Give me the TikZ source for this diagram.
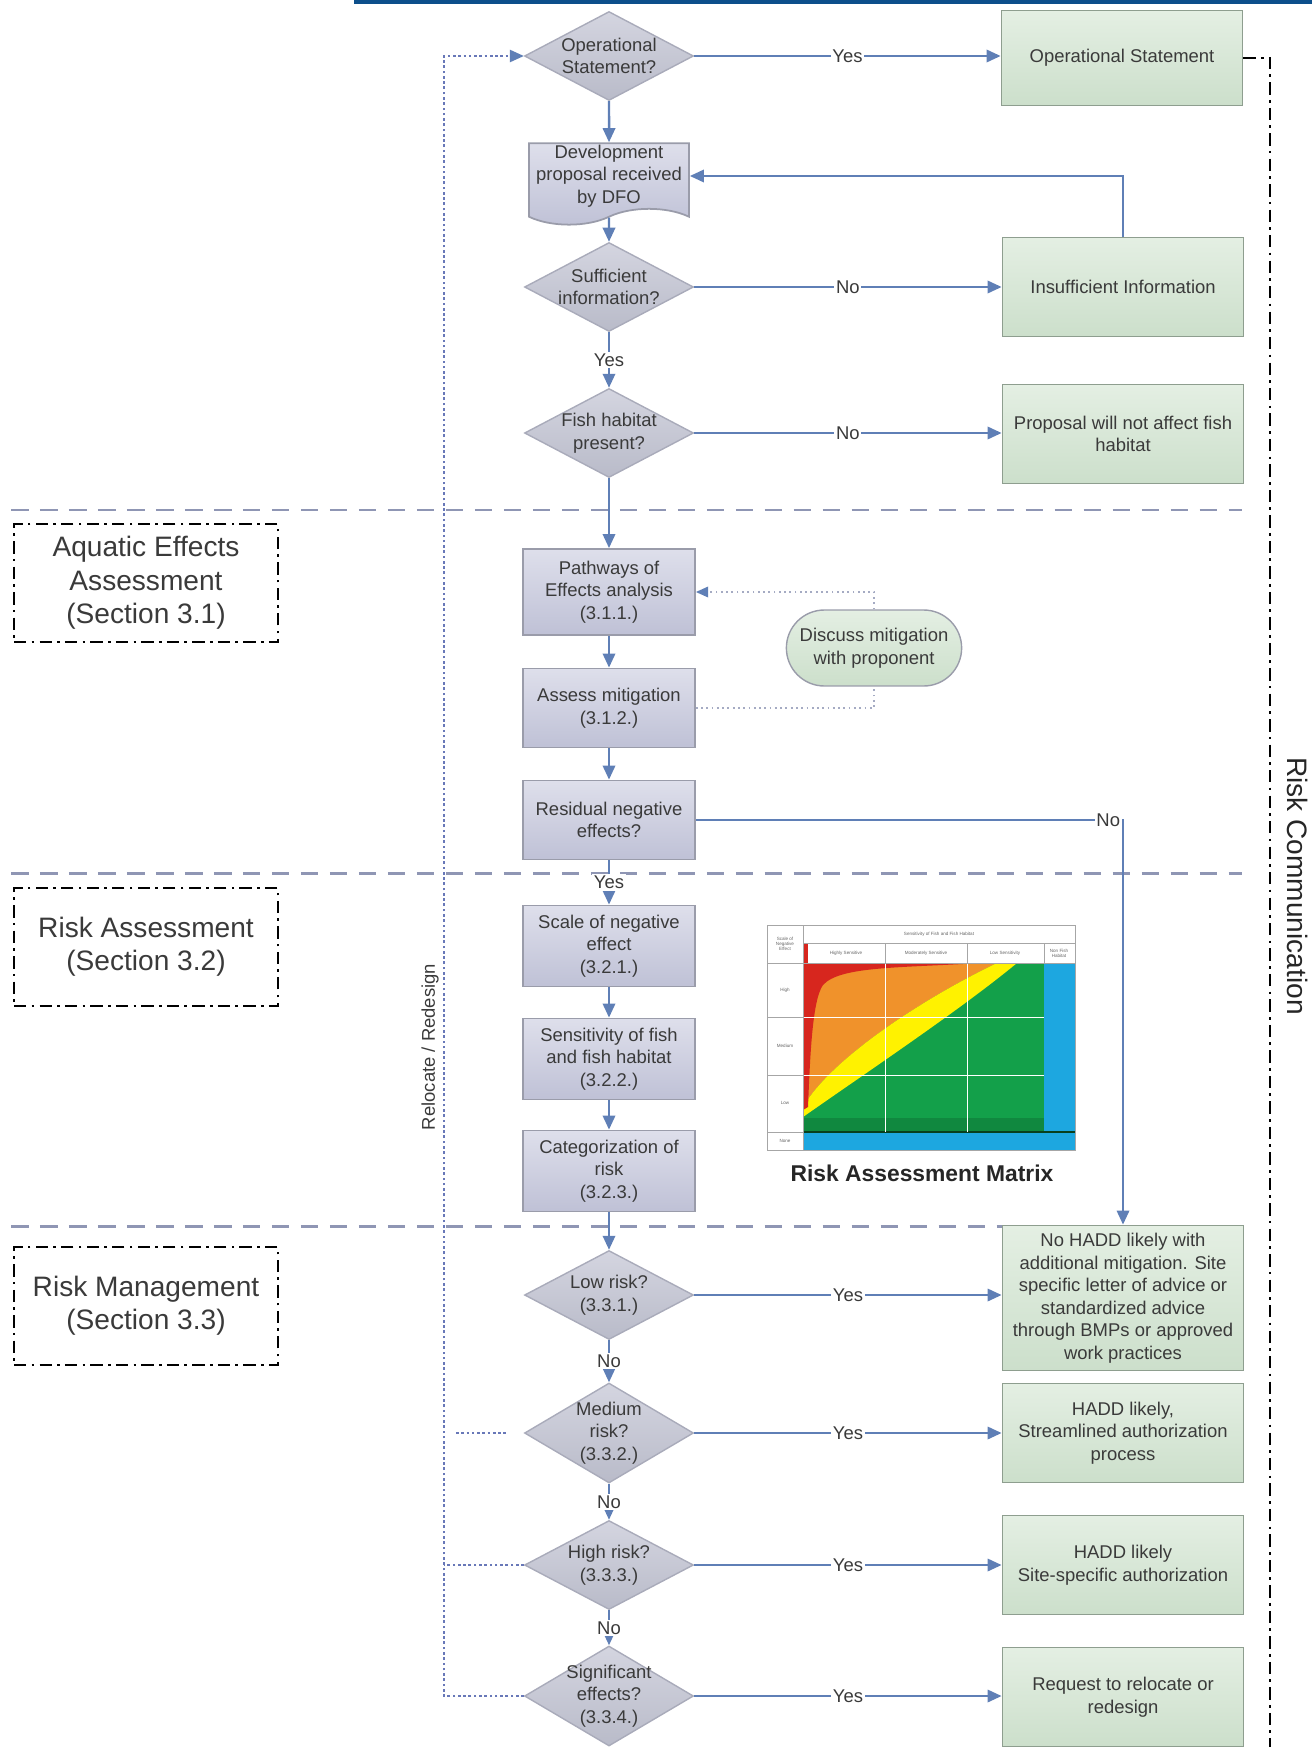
\documentclass[tikz,border=0pt]{standalone}
\usepackage{fontspec}
\setmainfont{Liberation Sans}
\usetikzlibrary{arrows.meta,shapes.geometric,shapes.symbols,shapes.misc}

\definecolor{flowblue}{HTML}{5F7FB6}
\definecolor{procedge}{HTML}{9A9CAA}
\definecolor{proctop}{HTML}{DEDFEB}
\definecolor{procbot}{HTML}{BFC1D6}
\definecolor{dectop}{HTML}{D4D5E0}
\definecolor{decbot}{HTML}{B9BBC9}
\definecolor{decedge}{HTML}{A9ABBA}
\definecolor{greentop}{HTML}{E4EFE3}
\definecolor{greenbot}{HTML}{CCDFCB}
\definecolor{greenedge}{HTML}{8E9E8F}
\definecolor{sepgray}{HTML}{8F96B4}
\definecolor{relblue}{HTML}{6878B8}
\definecolor{txtgray}{HTML}{3A3A3A}
\definecolor{topblue}{HTML}{0D4F8B}
\definecolor{mred}{HTML}{D7261E}
\definecolor{morange}{HTML}{F0922B}
\definecolor{myellow}{HTML}{FFF200}
\definecolor{mgreen}{HTML}{13A04A}
\definecolor{mblue}{HTML}{1DA7E0}

\tikzset{
  proc/.style={rectangle, draw=procedge, line width=1pt, top color=proctop,
    bottom color=procbot, minimum width=3.44cm, align=center, inner sep=2pt,
    text=txtgray},
  docbox/.style={tape, tape bend top=none, tape bend bottom=in and out,
    tape bend height=9pt, draw=procedge, line width=1pt, top color=proctop,
    bottom color=procbot, minimum width=3.2cm, minimum height=1.42cm,
    align=center, inner sep=1pt, text=txtgray},
  decision/.style={diamond, draw=decedge, line width=0.8pt, top color=dectop,
    bottom color=decbot, minimum width=3.38cm, minimum height=1.78cm,
    inner sep=0pt},
  dtext/.style={align=center, text=txtgray, inner sep=0pt},
  outcome/.style={rectangle, draw=greenedge, line width=1pt, top color=greentop,
    bottom color=greenbot, minimum width=4.82cm, minimum height=1.98cm,
    align=center, text=txtgray},
  discbox/.style={rounded rectangle, draw=procedge, line width=0.8pt,
    top color=greentop, bottom color=greenbot, minimum width=3.74cm,
    minimum height=1.52cm, align=center, text=txtgray},
  secbox/.style={rectangle, draw=black, line width=1.3pt,
    dash pattern=on 7pt off 3pt on 1.5pt off 3pt, minimum width=5.28cm,
    minimum height=2.35cm, align=center, text=txtgray,
    font=\fontsize{16}{19}\selectfont},
  flow/.style={draw=flowblue, line width=1.4pt,
    -{Triangle[length=8pt, width=7pt]}},
  yn/.style={fill=white, inner sep=1pt, text=txtgray},
  dotflow/.style={draw=sepgray!80, line width=1pt, dash pattern=on 1pt off 2pt},
  reloc/.style={draw=relblue, line width=1pt, dash pattern=on 1.5pt off 1.5pt},
  sepline/.style={draw=sepgray, line width=1.7pt, dash pattern=on 10pt off 6.5pt},
  commline/.style={draw=black, line width=1.3pt,
    dash pattern=on 7pt off 3pt on 1.5pt off 3pt},
  mtxt/.style={inner sep=0pt, text=black!60, align=center,
    font=\fontsize{2.6}{3}\selectfont},
}

\begin{document}
\begin{tikzpicture}[x=0.02cm, y=-0.02cm, font=\fontsize{10.5}{12.8}\selectfont]
  \useasboundingbox (0,0) rectangle (1312,1747);

  % header rule
  \draw[topblue, line width=1.8pt] (354,2) -- (1312,2);

  % section separators
  \foreach \y in {510,873,1226} {
    \draw[sepline] (11,\y) -- (1242,\y);
  }

  % section labels
  \node[secbox] (aqua) at (146,583) {Aquatic Effects\\Assessment\\(Section 3.1)};
  \node[secbox] (rass) at (146,947) {Risk Assessment\\(Section 3.2)};
  \node[secbox] (rman) at (146,1306) {Risk Management\\(Section 3.3)};

  % main column
  \node[decision] (opq) at (609,56) {};
  \node[dtext] (opqt) at (opq) {Operational\\Statement?};
  \node[docbox] (devprop) at (609,176) {Development\\proposal received\\by DFO};
  \node[decision] (suf) at (609,287) {};
  \node[dtext] (suft) at (suf) {Sufficient\\information?};
  \node[decision] (fish) at (609,433) {};
  \node[dtext] (fisht) at (fish) {Fish habitat\\present?};
  \node[proc, minimum height=1.72cm] (path) at (609,592) {Pathways of\\Effects analysis\\(3.1.1.)};
  \node[proc, minimum height=1.58cm] (assess) at (609,708) {Assess mitigation\\(3.1.2.)};
  \node[proc, minimum height=1.58cm] (resid) at (609,820) {Residual negative\\effects?};
  \node[proc, minimum height=1.62cm] (scale) at (609,946) {Scale of negative\\effect\\(3.2.1.)};
  \node[proc, minimum height=1.62cm] (sens) at (609,1059) {Sensitivity of fish\\and fish habitat\\(3.2.2.)};
  \node[proc, minimum height=1.62cm] (categ) at (609,1171) {Categorization of\\risk\\(3.2.3.)};
  \node[decision] (low) at (609,1295) {};
  \node[dtext] (lowt) at (low) {Low risk?\\(3.3.1.)};
  \node[decision, minimum height=2cm] (med) at (609,1433) {};
  \node[dtext] (medt) at (med) {Medium\\risk?\\(3.3.2.)};
  \node[decision] (high) at (609,1565) {};
  \node[dtext] (hight) at (high) {High risk?\\(3.3.3.)};
  \node[decision, minimum height=2cm] (sig) at (609,1696) {};
  \node[dtext] (sigt) at (sig) {Significant\\effects?\\(3.3.4.)};

  % outcomes
  \node[outcome, minimum height=1.9cm] (opbox) at (1122,58) {Operational Statement};
  \node[outcome] (insuf) at (1123,287) {Insufficient Information};
  \node[outcome] (prop) at (1123,434) {Proposal will not affect fish\\habitat};
  \node[outcome, minimum height=2.9cm] (nohadd) at (1123,1298) {No HADD likely with\\additional mitigation. Site\\specific letter of advice or\\standardized advice\\through BMPs or approved\\work practices};
  \node[outcome] (hsa) at (1123,1433) {HADD likely,\\Streamlined authorization\\process};
  \node[outcome] (hss) at (1123,1565) {HADD likely\\Site-specific authorization};
  \node[outcome] (req) at (1123,1697) {Request to relocate or\\redesign};

  \node[discbox] (discuss) at (874,648) {Discuss mitigation\\with proponent};

  % risk matrix
  \fill[white] (767,925) rectangle (1075,1150);
  \fill[mgreen] (803,963) rectangle (1044,1132);
  \fill[mgreen!85!black] (803,1118) rectangle (1044,1132);
  \fill[morange] (803,963) -- (997,963) .. controls (920,1000) and (830,1060) .. (803,1107) -- cycle;
  \fill[myellow] (803,1117) .. controls (870,1070) and (960,1010) .. (1017,963) -- (997,963)
    .. controls (920,1000) and (830,1060) .. (803,1107) -- cycle;
  \fill[mred] (803,963) -- (980,963) .. controls (900,968) and (840,966) .. (823,985)
    .. controls (812,1000) and (810,1060) .. (808,1107) -- (803,1110) -- cycle;
  \fill[mblue] (1044,963) rectangle (1075,1132);
  \fill[mblue] (803,1132) rectangle (1075,1150);
  \fill[mred] (803,943) rectangle (808,963);
  \draw[mgreen!40!black, line width=0.8pt] (803,1132) -- (1075,1132);
  \draw[white, line width=0.4pt] (885,963) -- (885,1132) (967,963) -- (967,1132)
    (803,1017) -- (1044,1017) (803,1075) -- (1044,1075);
  \draw[gray!70, line width=0.5pt] (767,925) rectangle (1075,1150)
    (803,925) -- (803,1150) (803,943) -- (1075,943) (767,963) -- (1075,963)
    (885,943) -- (885,963) (967,943) -- (967,963) (1044,943) -- (1044,963)
    (767,1017) -- (803,1017) (767,1075) -- (803,1075) (767,1132) -- (803,1132);
  \node[mtxt] (mscale) at (785,944) {Scale of\\Negative\\Effect};
  \node[mtxt] (mhead) at (939,934) {Sensitivity of Fish and Fish Habitat};
  \node[mtxt] (mhs) at (846,953) {Highly Sensitive};
  \node[mtxt] (mms) at (926,953) {Moderately Sensitive};
  \node[mtxt] (mls) at (1005,953) {Low Sensitivity};
  \node[mtxt] (mnf) at (1059,953) {Non Fish\\Habitat};
  \node[mtxt] (mhigh) at (785,990) {High};
  \node[mtxt] (mmed) at (785,1046) {Medium};
  \node[mtxt] (mlow) at (785,1103) {Low};
  \node[mtxt] (mnone) at (785,1141) {None};
  \node[font=\bfseries\fontsize{13}{15}\selectfont, text=black!85] (mcap) at (922,1173) {Risk Assessment Matrix};

  % main flow
  \draw[flow] (opq.east) -- node[yn]{Yes} (opq.east -| opbox.west);
  \draw[flow] (opq) -- (devprop);
  \draw[flow] (insuf.north) |- (devprop.east);
  \draw[flow] (devprop) -- (suf);
  \draw[flow] (suf) -- node[yn]{No} (insuf);
  \draw[flow] (suf) -- node[yn]{Yes} (fish);
  \draw[flow] (fish.east) -- node[yn]{No} (fish.east -| prop.west);
  \draw[flow] (fish) -- (path);
  \draw[flow] (path) -- (assess);
  \draw[flow] (assess) -- (resid);
  \draw[flow] (resid.east) -| node[yn, pos=0.5, anchor=east]{No} (nohadd.north);
  \draw[flow] (resid) -- node[yn]{Yes} (scale);
  \draw[flow] (scale) -- (sens);
  \draw[flow] (sens) -- (categ);
  \draw[flow] (categ) -- (low);
  \draw[flow] (low.east) -- node[yn]{Yes} (low.east -| nohadd.west);
  \draw[flow] (low) -- node[yn]{No} (med);
  \draw[flow] (med.east) -- node[yn]{Yes} (med.east -| hsa.west);
  \draw[flow] (med) -- node[yn]{No} (high);
  \draw[flow] (high.east) -- node[yn]{Yes} (high.east -| hss.west);
  \draw[flow] (high) -- node[yn]{No} (sig);
  \draw[flow] (sig.east) -- node[yn]{Yes} (sig.east -| req.west);

  % mitigation loop
  \draw[dotflow] (assess.east) -| (discuss.south);
  \draw[dotflow, -{Triangle[length=7pt, width=6pt, color=flowblue]}] (discuss.north) |- (path.east);

  % relocate / redesign loop
  \coordinate (rl) at (444,0);
  \draw[reloc, -{Triangle[length=8pt, width=7pt, color=flowblue]}] (sig.west) -| (rl |- opq.west) -- (opq.west);
  \draw[reloc] (high.west) -- (rl |- high.west);
  \draw[reloc, shorten >=0.36cm, shorten <=0.24cm] (rl |- med.west) -- (med.west);
  \node[rotate=90, text=txtgray] (reltxt) at (430,1047) {Relocate / Redesign};

  % risk communication
  \coordinate (rcend) at (1270,1747);
  \draw[commline] (opbox.east) -| (rcend);
  \node[rotate=-90, text=black!85, font=\fontsize{16}{19}\selectfont] (rctxt) at (1298,886) {Risk Communication};
\end{tikzpicture}
\end{document}
